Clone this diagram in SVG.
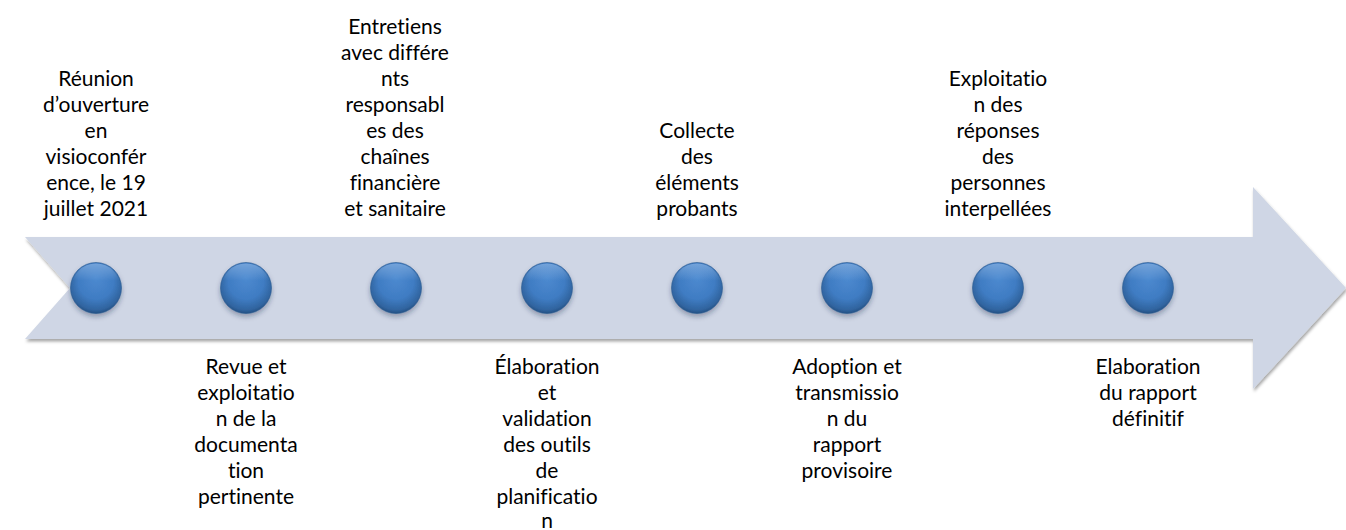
<svg xmlns="http://www.w3.org/2000/svg" width="1346" height="530" viewBox="0 0 1346 530">
  <defs>
    <filter id="arrowShadow" x="-5%" y="-20%" width="110%" height="140%">
      <feDropShadow dx="1" dy="2.5" stdDeviation="1.6" flood-color="#000" flood-opacity="0.35"/>
    </filter>
    <filter id="ballShadow" x="-30%" y="-30%" width="160%" height="170%">
      <feDropShadow dx="0" dy="3" stdDeviation="2.5" flood-color="#1b2f4a" flood-opacity="0.35"/>
    </filter>
    <radialGradient id="ballFill" cx="50%" cy="42%" r="58%" fx="50%" fy="30%">
      <stop offset="0" stop-color="#4d8ad0"/>
      <stop offset="0.6" stop-color="#3f7cc3"/>
      <stop offset="0.9" stop-color="#30649f"/>
      <stop offset="1" stop-color="#244f82"/>
    </radialGradient>
    <linearGradient id="ballHi" x1="0" y1="0" x2="0" y2="1">
      <stop offset="0" stop-color="#9fc3ec" stop-opacity="0.55"/>
      <stop offset="0.35" stop-color="#9fc3ec" stop-opacity="0"/>
    </linearGradient>
  </defs>
  <style>
    .lbl { font-family: "Lato", "Liberation Sans", sans-serif; font-size: 21px; fill: #000; text-anchor: middle; font-variant-ligatures: none; font-feature-settings: "liga" 0; }
    .arrow { fill: #cfd6e5; }
    .ball { fill: url(#ballFill); stroke: #2a5a92; stroke-width: 0.6; }
    .hi { fill: url(#ballHi); }
  </style>

  <g id="connectors">
    <path id="timeline-arrow" class="arrow" filter="url(#arrowShadow)" d="M25,237 L1253,237 L1253,187 L1346,288 L1253,389 L1253,339 L25,339 L70,288 Z"/>
  </g>

  <g id="node1">
    <g filter="url(#ballShadow)"><circle class="ball" cx="96" cy="288" r="25.5"/></g>
    <circle class="hi" cx="96" cy="288" r="24.5"/>
    <text class="lbl" x="96" y="86">Réunion</text>
    <text class="lbl" x="96" y="112">d’ouverture</text>
    <text class="lbl" x="96" y="138">en</text>
    <text class="lbl" x="96" y="164">visioconfér</text>
    <text class="lbl" x="96" y="190">ence, le 19</text>
    <text class="lbl" x="96" y="216">juillet 2021</text>
  </g>

  <g id="node2">
    <g filter="url(#ballShadow)"><circle class="ball" cx="246" cy="288" r="25.5"/></g>
    <circle class="hi" cx="246" cy="288" r="24.5"/>
    <text class="lbl" x="246" y="374">Revue et</text>
    <text class="lbl" x="246" y="400">exploitatio</text>
    <text class="lbl" x="246" y="426">n de la</text>
    <text class="lbl" x="246" y="452">documenta</text>
    <text class="lbl" x="246" y="478">tion</text>
    <text class="lbl" x="246" y="504">pertinente</text>
  </g>

  <g id="node3">
    <g filter="url(#ballShadow)"><circle class="ball" cx="396" cy="288" r="25.5"/></g>
    <circle class="hi" cx="396" cy="288" r="24.5"/>
    <text class="lbl" x="395" y="34">Entretiens</text>
    <text class="lbl" x="395" y="60">avec différe</text>
    <text class="lbl" x="395" y="86">nts</text>
    <text class="lbl" x="395" y="112">responsabl</text>
    <text class="lbl" x="395" y="138">es des</text>
    <text class="lbl" x="395" y="164">chaînes</text>
    <text class="lbl" x="395" y="190">financière</text>
    <text class="lbl" x="395" y="216">et sanitaire</text>
  </g>

  <g id="node4">
    <g filter="url(#ballShadow)"><circle class="ball" cx="547" cy="288" r="25.5"/></g>
    <circle class="hi" cx="547" cy="288" r="24.5"/>
    <text class="lbl" x="547" y="374">Élaboration</text>
    <text class="lbl" x="547" y="400">et</text>
    <text class="lbl" x="547" y="426">validation</text>
    <text class="lbl" x="547" y="452">des outils</text>
    <text class="lbl" x="547" y="478">de</text>
    <text class="lbl" x="547" y="504">planificatio</text>
    <text class="lbl" x="547" y="528">n</text>
  </g>

  <g id="node5">
    <g filter="url(#ballShadow)"><circle class="ball" cx="697" cy="288" r="25.5"/></g>
    <circle class="hi" cx="697" cy="288" r="24.5"/>
    <text class="lbl" x="697" y="138">Collecte</text>
    <text class="lbl" x="697" y="164">des</text>
    <text class="lbl" x="697" y="190">éléments</text>
    <text class="lbl" x="697" y="216">probants</text>
  </g>

  <g id="node6">
    <g filter="url(#ballShadow)"><circle class="ball" cx="847" cy="288" r="25.5"/></g>
    <circle class="hi" cx="847" cy="288" r="24.5"/>
    <text class="lbl" x="847" y="374">Adoption et</text>
    <text class="lbl" x="847" y="400">transmissio</text>
    <text class="lbl" x="847" y="426">n du</text>
    <text class="lbl" x="847" y="452">rapport</text>
    <text class="lbl" x="847" y="478">provisoire</text>
  </g>

  <g id="node7">
    <g filter="url(#ballShadow)"><circle class="ball" cx="998" cy="288" r="25.5"/></g>
    <circle class="hi" cx="998" cy="288" r="24.5"/>
    <text class="lbl" x="998" y="86">Exploitatio</text>
    <text class="lbl" x="998" y="112">n des</text>
    <text class="lbl" x="998" y="138">réponses</text>
    <text class="lbl" x="998" y="164">des</text>
    <text class="lbl" x="998" y="190">personnes</text>
    <text class="lbl" x="998" y="216">interpellées</text>
  </g>

  <g id="node8">
    <g filter="url(#ballShadow)"><circle class="ball" cx="1148" cy="288" r="25.5"/></g>
    <circle class="hi" cx="1148" cy="288" r="24.5"/>
    <text class="lbl" x="1148" y="374">Elaboration</text>
    <text class="lbl" x="1148" y="400">du rapport</text>
    <text class="lbl" x="1148" y="426">définitif</text>
  </g>
</svg>
